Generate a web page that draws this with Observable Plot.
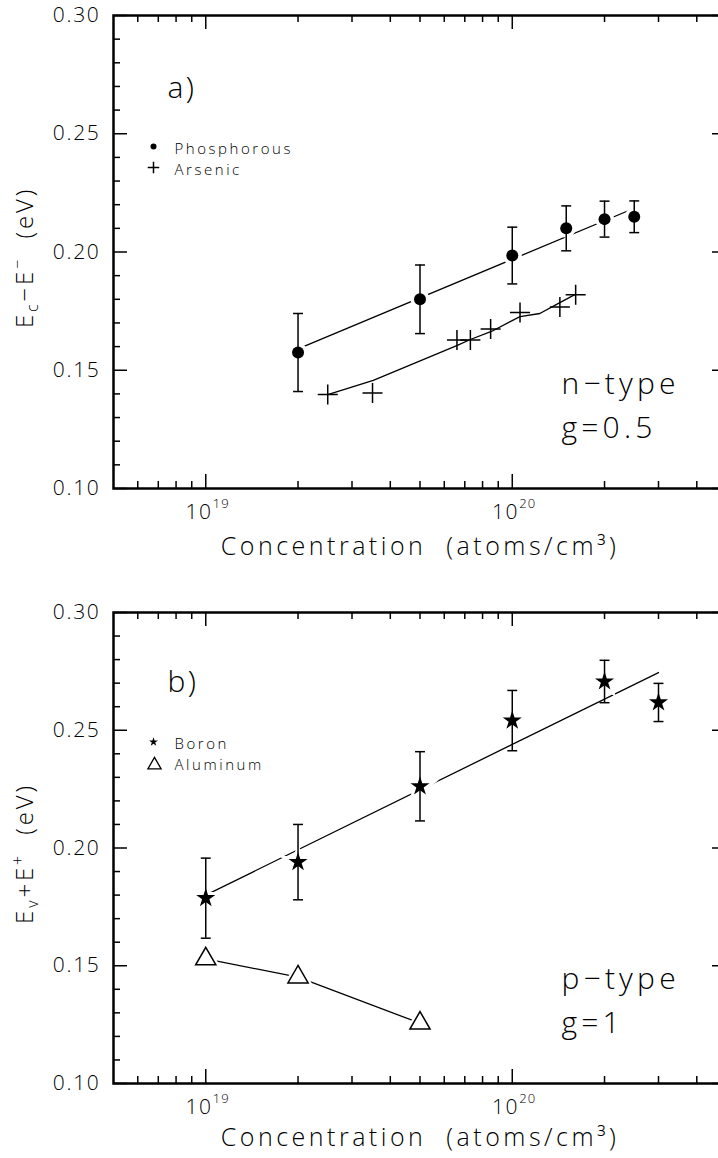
<!DOCTYPE html>
<html>
<head>
<meta charset="utf-8">
<script src="https://cdn.jsdelivr.net/npm/d3@7"></script>
<script src="https://cdn.jsdelivr.net/npm/@observablehq/plot@0.6"></script>
<style>
html, body { margin: 0; padding: 0; background: #fff; overflow: hidden; }
#charts { width: 740px; }
#charts svg { display: block; }
svg text { white-space: pre; letter-spacing: 0.08em; font-weight: 300; }
svg .wide text, svg text.wide { letter-spacing: 0.14em; }
</style>
</head>
<body>
<div id="charts"></div>
<script>
// ---------- data ----------
const xDomain = [5e18, 5e20];
const yDomain = [0.10, 0.30];
const xTickMajor = [1e19, 1e20];
const xTickMinor = [6e18, 7e18, 8e18, 9e18, 2e19, 3e19, 4e19, 5e19, 6e19, 7e19, 8e19, 9e19, 2e20, 3e20, 4e20];
const yTickMajor = [0.10, 0.15, 0.20, 0.25, 0.30];
const yTickMinor = [0.11, 0.12, 0.13, 0.14, 0.16, 0.17, 0.18, 0.19, 0.21, 0.22, 0.23, 0.24, 0.26, 0.27, 0.28, 0.29];

// panel a (n-type)
const phosX = [2e19, 5e19, 1e20, 1.5e20, 2e20, 2.5e20];
const phosY = [0.1575, 0.180, 0.1985, 0.2100, 0.2139, 0.2149];
const phosErr = [0.0165, 0.0145, 0.0120, 0.0095, 0.0076, 0.0067];
const phosFitX = [2e19, 2.5e20];
const phosFitY = [0.159, 0.2185];
const arsX = [2.5e19, 3.5e19, 6.6e19, 7.3e19, 8.5e19, 1.06e20, 1.43e20, 1.61e20];
const arsY = [0.1397, 0.1404, 0.1628, 0.1628, 0.1674, 0.1744, 0.1767, 0.1819];
const arsLineX = [2.5e19, 3.52e19, 6.62e19, 7.3e19, 8.55e19, 1.06e20, 1.23e20, 1.41e20, 1.6e20];
const arsLineY = [0.1397, 0.1457, 0.1605, 0.1630, 0.1664, 0.1727, 0.1740, 0.1782, 0.1820];
const legendA = ["Phosphorous", "Arsenic"];
const tagA = ["a)"];
const noteA = ["n\u2212type", "g=0.5"];

// panel b (p-type)
const boronX = [1e19, 2e19, 5e19, 1e20, 2e20, 3e20];
const boronY = [0.1787, 0.1940, 0.2262, 0.2541, 0.2707, 0.2618];
const boronErr = [0.0170, 0.0160, 0.0147, 0.0128, 0.0090, 0.0081];
const boronFitX = [1e19, 3e20];
const boronFitY = [0.1800, 0.2745];
const alX = [1e19, 2e19, 5e19];
const alY = [0.1529, 0.1452, 0.1256];
const legendB = ["Boron", "Aluminum"];
const tagB = ["b)"];
const noteB = ["p\u2212type", "g=1"];

const xTitle = "Concentration  (atoms/cm\u00B3)";
const yTitleA = {sub: "c", mid: "\u2212E", sup: "\u2212"};
const yTitleB = {sub: "v", mid: "+E", sup: "+"};

// ---------- helpers ----------
const FONT = "'Open Sans', 'DejaVu Sans', sans-serif";
const zip = (xs, ys, es) => xs.map((x, i) => ({x, y: ys[i], e: es ? es[i] : 0}));
const capSym = {draw(ctx, size) { const w = Math.sqrt(size); ctx.moveTo(-w / 2, 0); ctx.lineTo(w / 2, 0); }};

function errorMarks(data) {
  return [
    Plot.ruleX(data, {x: "x", y1: d => d.y - d.e, y2: d => d.y + d.e, stroke: "black", strokeWidth: 1.5}),
    Plot.dot(data, {x: "x", y: d => d.y - d.e, symbol: capSym, r: 5.6, fill: "none", stroke: "black", strokeWidth: 1.5}),
    Plot.dot(data, {x: "x", y: d => d.y + d.e, symbol: capSym, r: 5.6, fill: "none", stroke: "black", strokeWidth: 1.5})
  ];
}

function panel(p) {
  const W = 740, mL = 113, mR = 14;
  const fw = W - mL - mR, fh = p.height - p.mT - p.mB;
  const svg = Plot.plot({
    width: W, height: p.height,
    marginLeft: mL, marginRight: mR, marginTop: p.mT, marginBottom: p.mB,
    x: {type: "log", domain: xDomain, axis: null},
    y: {domain: yDomain, axis: null},
    style: {fontFamily: FONT, fontSize: "21px", color: "black", background: "white", overflow: "visible"},
    marks: [
      Plot.tickX(xTickMajor, {x: d => d, insetTop: fh - 14, strokeWidth: 1.5}),
      Plot.tickX(xTickMajor, {x: d => d, insetBottom: fh - 14, strokeWidth: 1.5}),
      Plot.tickX(xTickMinor, {x: d => d, insetTop: fh - 7, strokeWidth: 1.5}),
      Plot.tickX(xTickMinor, {x: d => d, insetBottom: fh - 7, strokeWidth: 1.5}),
      Plot.tickY(yTickMajor, {y: d => d, insetRight: fw - 14, strokeWidth: 1.5}),
      Plot.tickY(yTickMajor, {y: d => d, insetLeft: fw - 14, strokeWidth: 1.5}),
      Plot.tickY(yTickMinor, {y: d => d, insetRight: fw - 7, strokeWidth: 1.5}),
      Plot.tickY(yTickMinor, {y: d => d, insetLeft: fw - 7, strokeWidth: 1.5}),
      ...p.dataMarks,
      // tick labels
      Plot.text(yTickMajor, {y: d => d, frameAnchor: "left", dx: -13, textAnchor: "end", lineAnchor: "middle",
        text: d => d.toFixed(2), fontSize: 21}),
      Plot.text(xTickMajor, {x: d => d, frameAnchor: "bottom", dx: 7, dy: 30, textAnchor: "end", lineAnchor: "bottom",
        text: () => "10", fontSize: 21}),
      Plot.text(xTickMajor, {x: d => d, frameAnchor: "bottom", dx: 7, dy: 19, textAnchor: "start", lineAnchor: "bottom",
        text: d => String(Math.round(Math.log10(d))), fontSize: 13}),
      Plot.text([xTitle], {frameAnchor: "bottom", dy: p.titleDy, lineAnchor: "bottom", fontSize: 25, className: "wide"}),
      // panel tag
      Plot.text(p.tag, {frameAnchor: "top-left", dx: 54, dy: p.tagDy, textAnchor: "start", lineAnchor: "bottom", fontSize: 30}),
      // legend
      Plot.text([p.legend[0]], {frameAnchor: "top-left", dx: 61, dy: p.legDy[0], textAnchor: "start", lineAnchor: "bottom", fontSize: 15, className: "leg"}),
      Plot.text([p.legend[1]], {frameAnchor: "top-left", dx: 61, dy: p.legDy[1], textAnchor: "start", lineAnchor: "bottom", fontSize: 15, className: "leg"}),
      ...p.legendMarks,
      // notes
      Plot.text([p.note[0]], {frameAnchor: "bottom-left", dx: 448, dy: -95, textAnchor: "start", lineAnchor: "bottom", fontSize: 30, className: "wide"}),
      Plot.text([p.note[1]], {frameAnchor: "bottom-left", dx: 448, dy: -51, textAnchor: "start", lineAnchor: "bottom", fontSize: 30, className: "wide"}),
      Plot.frame({stroke: "black", strokeWidth: 2.5})
    ]
  });
  // legend texts: slightly wider spacing (Hershey-like)
  d3.select(svg).selectAll(".leg text").style("letter-spacing", "0.17em");
  // y-axis title with sub/superscripts
  const cy = p.mT + fh / 2 + 6;
  const t = d3.select(svg).append("text")
    .attr("transform", `translate(33,${cy}) rotate(-90)`)
    .attr("text-anchor", "middle")
    .attr("font-family", FONT)
    .attr("font-size", 24)
    .attr("fill", "black")
    .style("letter-spacing", "0.12em");
  t.append("tspan").text("E");
  t.append("tspan").attr("font-size", 16).attr("dy", 5).text(p.ytitle.sub);
  t.append("tspan").attr("dy", -5).text(p.ytitle.mid);
  t.append("tspan").attr("font-size", 16).attr("dy", -10).text(p.ytitle.sup);
  t.append("tspan").attr("dy", 10).text("  (eV)");
  return svg;
}

// ---------- panel a ----------
const phos = zip(phosX, phosY, phosErr);
const phosFit = zip(phosFitX, phosFitY);
const ars = zip(arsX, arsY);
const arsLine = zip(arsLineX, arsLineY);

const svgA = panel({
  height: 590, mT: 15, mB: 102, titleDy: 66,
  tag: tagA, tagDy: 82, legend: legendA, legDy: [138, 159], note: noteA, ytitle: yTitleA,
  dataMarks: [
    Plot.line(phosFit, {x: "x", y: "y", stroke: "black", strokeWidth: 1.3}),
    Plot.line(arsLine, {x: "x", y: "y", stroke: "black", strokeWidth: 1.3}),
    Plot.dot(phos, {x: "x", y: "y", r: 9.5, fill: "white"}),
    ...errorMarks(phos),
    Plot.dot(phos, {x: "x", y: "y", r: 6, fill: "black"}),
    Plot.dot(ars, {x: "x", y: "y", symbol: "plus", r: 6.5, stroke: "black", strokeWidth: 1.5})
  ],
  legendMarks: [
    Plot.dot([legendA[0]], {frameAnchor: "top-left", dx: 40, dy: 131, r: 3, fill: "black"}),
    Plot.dot([legendA[1]], {frameAnchor: "top-left", dx: 40, dy: 152, symbol: "plus", r: 3.8, stroke: "black", strokeWidth: 1.5})
  ]
});

// ---------- panel b ----------
const boron = zip(boronX, boronY, boronErr);
const boronFit = zip(boronFitX, boronFitY);
const al = zip(alX, alY);

const svgB = panel({
  height: 568, mT: 22, mB: 75, titleDy: 62,
  tag: tagB, tagDy: 79, legend: legendB, legDy: [136, 157], note: noteB, ytitle: yTitleB,
  dataMarks: [
    Plot.line(boronFit, {x: "x", y: "y", stroke: "black", strokeWidth: 1.3}),
    Plot.line(al, {x: "x", y: "y", stroke: "black", strokeWidth: 1.3}),
    Plot.dot(boron, {x: "x", y: "y", symbol: "star", r: 6, fill: "white", stroke: "white", strokeWidth: 6}),
    Plot.dot(al, {x: "x", y: "y", symbol: "triangle", r: 7.5, fill: "white", stroke: "white", strokeWidth: 6}),
    ...errorMarks(boron),
    Plot.dot(boron, {x: "x", y: "y", symbol: "star", r: 6, fill: "black"}),
    Plot.dot(al, {x: "x", y: "y", symbol: "triangle", r: 7.5, fill: "white", stroke: "black", strokeWidth: 1.5})
  ],
  legendMarks: [
    Plot.dot([legendB[0]], {frameAnchor: "top-left", dx: 40, dy: 129.5, symbol: "star", r: 2.8, fill: "black"}),
    Plot.dot([legendB[1]], {frameAnchor: "top-left", dx: 41, dy: 152.5, symbol: "triangle", r: 4.9, fill: "white", stroke: "black", strokeWidth: 1.3})
  ]
});

document.getElementById("charts").append(svgA, svgB);
</script>
</body>
</html>
